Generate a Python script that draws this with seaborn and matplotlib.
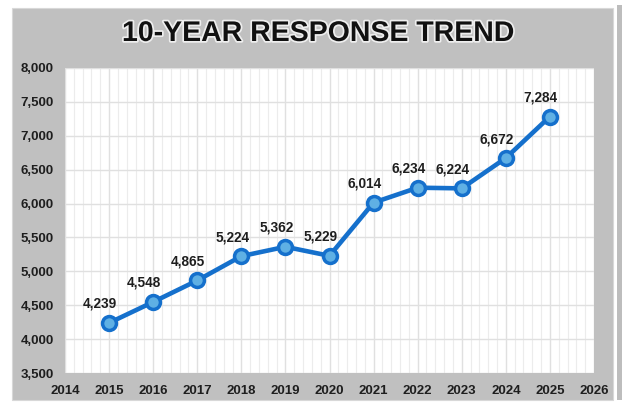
import matplotlib
matplotlib.use("Agg")
import matplotlib.pyplot as plt
import matplotlib.patheffects as pe
from matplotlib.patches import Rectangle
from matplotlib.ticker import MultipleLocator, FuncFormatter
import seaborn as sns
import pandas as pd

# Data
years = [2015, 2016, 2017, 2018, 2019, 2020, 2021, 2022, 2023, 2024, 2025]
responses = [4239, 4548, 4865, 5224, 5362, 5229, 6014, 6234, 6224, 6672, 7284]
title = "10-YEAR RESPONSE TREND"

sns.set_style("white")
plt.rcParams["font.family"] = ["Liberation Sans", "DejaVu Sans"]

df = pd.DataFrame({"year": years, "responses": responses})

fig = plt.figure(figsize=(6.25, 4.03), dpi=100)
fig.patch.set_facecolor("white")

# grey panel behind the chart plus a faint shadow strip on the right
fig.patches.append(Rectangle((12 / 625, 3 / 403), 601 / 625, 392 / 403,
                             transform=fig.transFigure, facecolor="#c0c0c0",
                             edgecolor="#d8d8d8", linewidth=0.8, zorder=-10))
fig.patches.append(Rectangle((617 / 625, 3 / 403), 5 / 625, 395 / 403,
                             transform=fig.transFigure, facecolor="#bdbdbd",
                             edgecolor="none", zorder=-10))

ax = fig.add_axes([65 / 625, 30 / 403, 529 / 625, 305 / 403])
ax.set_facecolor("white")

sns.lineplot(data=df, x="year", y="responses", ax=ax, color="#1570cc",
             linewidth=3.3, marker="o", markersize=10,
             markerfacecolor="#5fb0e4", markeredgecolor="#1570cc",
             markeredgewidth=2.5, zorder=3)

for x, y in zip(years, responses):
    ax.annotate(f"{y:,}", (x, y), xytext=(-9, 19), textcoords="offset pixels",
                ha="center", va="center", fontsize=9.8, fontweight="bold",
                color="#1e1e1e", zorder=4)

ax.set_xlim(2014, 2026)
ax.set_ylim(3500, 8000)
ax.xaxis.set_major_locator(MultipleLocator(1))
ax.xaxis.set_minor_locator(MultipleLocator(0.2))
ax.yaxis.set_major_locator(MultipleLocator(500))
ax.yaxis.set_major_formatter(FuncFormatter(lambda v, _: f"{int(v):,}"))
ax.grid(which="major", axis="both", color="#e0e0e0", linewidth=1)
ax.grid(which="minor", axis="x", color="#ececec", linewidth=0.8)
ax.set_axisbelow(True)

ax.tick_params(axis="both", which="both", length=0, labelsize=9.5,
               labelcolor="#1e1e1e")
ax.tick_params(axis="y", pad=8)
ax.tick_params(axis="x", pad=9)
for lbl in ax.get_xticklabels() + ax.get_yticklabels():
    lbl.set_fontweight("bold")

for spine in ax.spines.values():
    spine.set_visible(False)
ax.set_xlabel("")
ax.set_ylabel("")

fig.text(318 / 625, 1 - 34 / 403, title, ha="center", va="center",
         fontsize=20.5, fontweight="bold", color="#111111",
         path_effects=[pe.withStroke(linewidth=2.5, foreground="#eeeeee")])

fig.savefig("out.png", dpi=100)
